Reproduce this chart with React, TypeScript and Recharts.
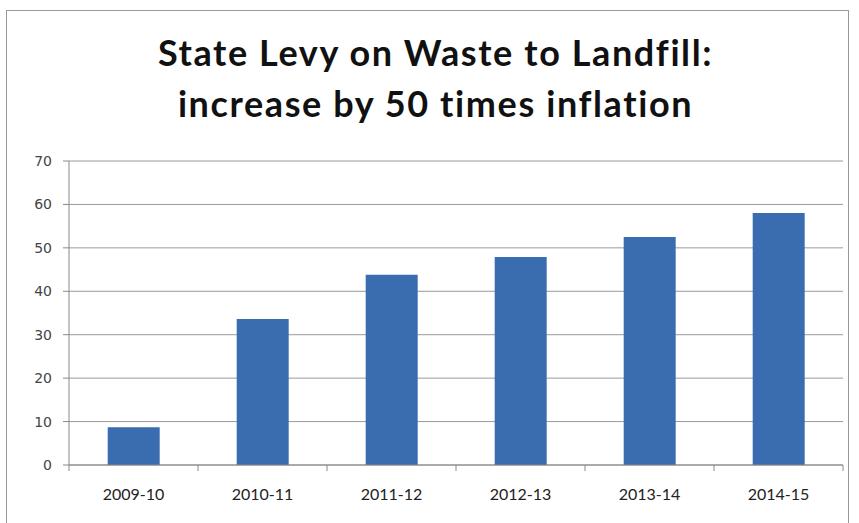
import { Bar, BarChart, CartesianGrid, XAxis, YAxis } from "recharts";

const seasons = ["2009-10", "2010-11", "2011-12", "2012-13", "2013-14", "2014-15"];
const levy = [8.7, 33.6, 43.8, 47.9, 52.5, 58];
const yTicks = [0, 10, 20, 30, 40, 50, 60, 70];
const titleLines = ["State Levy on Waste to Landfill:", "increase by 50 times inflation"];

const data = seasons.map((season, i) => ({ season, levy: levy[i] }));

const W = 859;
const H = 523;
const margin = { top: 161, right: 16, bottom: 28, left: 29 };
const yAxisWidth = 40;
const halfBand = (W - margin.left - yAxisWidth - margin.right) / seasons.length / 2;

function SeasonTick(props: any) {
  const { x, y, payload, index } = props;
  const last = index === seasons.length - 1;
  return (
    <g>
      <line x1={x - halfBand} y1={y - 6} x2={x - halfBand} y2={y} stroke="#888" />
      {last && <line x1={x + halfBand} y1={y - 6} x2={x + halfBand} y2={y} stroke="#888" />}
      <text
        x={x}
        y={y + 29}
        textAnchor="middle"
        fill="#222"
        fontSize={16}
        fontFamily="Lato, 'Open Sans', sans-serif"
      >
        {payload.value}
      </text>
    </g>
  );
}

export default function App() {
  return (
    <div style={{ position: "absolute", left: 0, top: 0, width: W, height: H, background: "#fff", overflow: "hidden" }}>
      <div
        style={{
          position: "absolute",
          left: 6,
          top: 10,
          width: 843,
          height: 520,
          border: "1px solid #999",
          boxSizing: "border-box",
        }}
      />
      <div
        style={{
          position: "absolute",
          left: 6,
          top: 27,
          width: W,
          textAlign: "center",
          fontFamily: "Lato, 'Open Sans', sans-serif",
          fontWeight: 700,
          fontSize: 36,
          letterSpacing: "1.6px",
          lineHeight: "51px",
          color: "#111",
        }}
      >
        {titleLines.map((t) => (
          <div key={t}>{t}</div>
        ))}
      </div>
      <div style={{ position: "absolute", left: 0, top: 0 }}>
        <BarChart width={W} height={H} data={data} margin={margin} barCategoryGap="30%">
          <CartesianGrid vertical={false} stroke="#9a9a9a" />
          <XAxis
            dataKey="season"
            height={30}
            stroke="#888"
            tickLine={false}
            tickMargin={0}
            tick={<SeasonTick />}
            interval={0}
          />
          <YAxis
            width={yAxisWidth}
            domain={[0, 70]}
            ticks={yTicks}
            stroke="#888"
            tickSize={6}
            tickMargin={11}
            tick={{ fill: "#444", fontSize: 14, fontFamily: "'DejaVu Sans', Verdana, sans-serif" }}
          />
          <Bar dataKey="levy" fill="#3a6db0" isAnimationActive={false} />
        </BarChart>
      </div>
    </div>
  );
}
